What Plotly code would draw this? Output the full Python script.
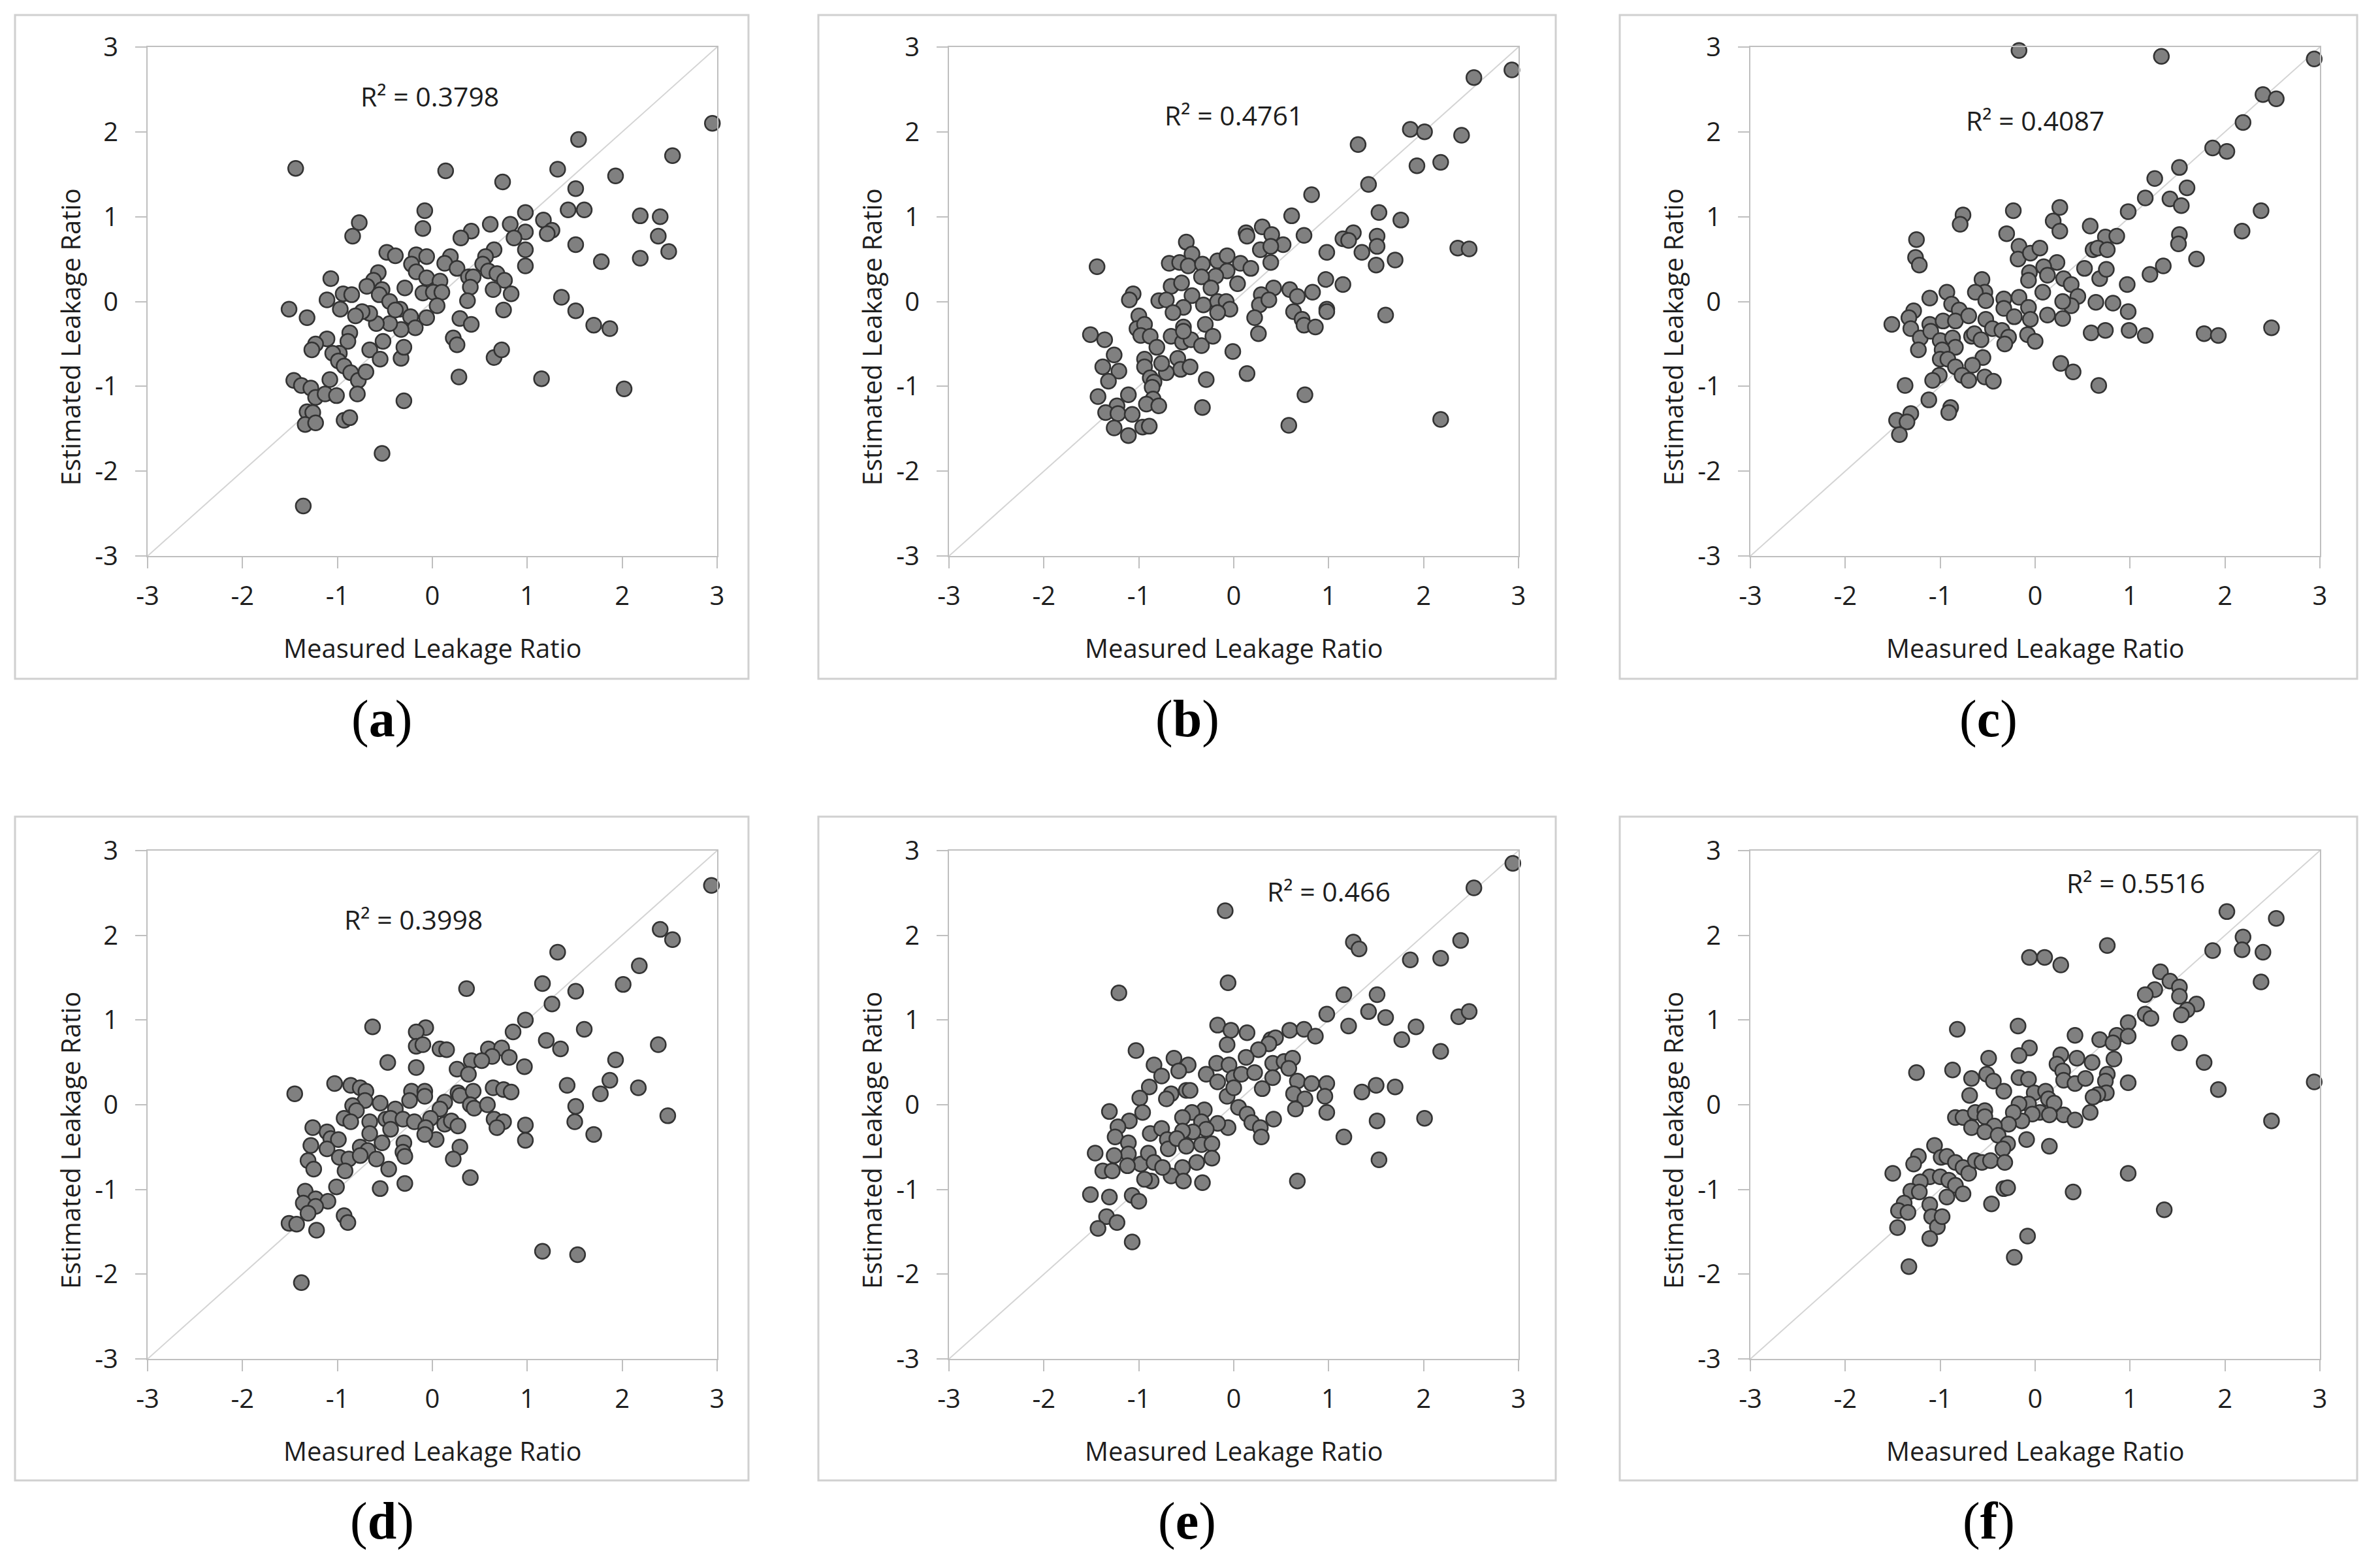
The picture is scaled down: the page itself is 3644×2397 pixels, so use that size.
import plotly.graph_objects as go

W, H = 3644, 2397

# shared axis settings (also the ends of the 1:1 reference line)
axis_range = [-3, 3]
tick_vals = [-3, -2, -1, 0, 1, 2, 3]
tick_text = [str(v) for v in tick_vals]

panel_letters = ["a", "b", "c", "d", "e", "f"]
r2_values = ["0.3798", "0.4761", "0.4087", "0.3998", "0.466", "0.5516"]

# (a)
measured_a = [2.95, 1.54, 2.53, -1.44, 0.14, 1.32, 1.93, 0.74, 1.51, -0.08, 1.43, 1.60, 0.98, 2.19, 2.40, -0.77, -0.10,
              -0.84, 1.17, 0.61, 0.82, 1.26, 1.21, 0.98, 0.41, 0.30, 0.86, 2.38, 1.51, 2.49, 0.98, 2.19, 1.78, 0.98,
              -0.48, -0.39, -0.17, -0.06, 0.19, 0.13, 0.26, 0.65, 0.56, 0.53, 0.59, 0.68, 0.76, 0.83, 0.64, 0.38,
              0.43, 0.40, 0.37, 0.75, 0.29, 0.41, 0.22, 0.26, 0.65, 0.73, 0.28, 1.15, 1.36, 1.51, 1.70, 1.87, 2.02,
              -0.22, -0.17, -0.06, 0.08, -0.10, 0.01, 0.10, 0.05, -0.06,
              -0.29, -0.57, -0.62, -0.69, -0.53, -0.56, -0.45, -0.34, -0.23, -0.18, -0.33, -0.45, -0.59, -0.66, -0.74, -0.81,
              -1.07, -0.94, -0.85, -1.11, -0.97, -1.51, -1.32, -0.87, -0.89, -1.11, -1.23, -1.27, -0.98, -1.05, -0.99,
              -0.93, -0.86, -0.78, -0.70, -0.79, -0.66, -0.52, -0.55, -0.33, -0.30,
              -1.46, -1.38, -1.28, -1.23, -1.08, -1.13, -1.01, -1.32, -1.26, -1.34, -1.23, -0.93, -0.87, -0.30, -0.53, -1.36,
              -0.39]
estimated_a = [2.10, 1.91, 1.72, 1.57, 1.54, 1.56, 1.48, 1.41, 1.33, 1.07, 1.08, 1.08, 1.05, 1.01, 1.00, 0.93, 0.86,
               0.77, 0.96, 0.91, 0.91, 0.84, 0.80, 0.82, 0.83, 0.75, 0.75, 0.77, 0.67, 0.59, 0.61, 0.51, 0.47, 0.42,
               0.58, 0.54, 0.55, 0.53, 0.53, 0.45, 0.39, 0.61, 0.53, 0.44, 0.36, 0.33, 0.25, 0.09, 0.14, 0.29,
               0.29, 0.17, 0.01, -0.10, -0.20, -0.27, -0.43, -0.51, -0.66, -0.57, -0.89, -0.91, 0.05, -0.11, -0.28, -0.32, -1.03,
               0.44, 0.35, 0.28, 0.24, 0.10, 0.11, 0.11, -0.05, -0.19,
               0.16, 0.34, 0.25, 0.18, 0.14, 0.08, 0.00, -0.09, -0.18, -0.31, -0.33, -0.26, -0.26, -0.14, -0.12, -0.17,
               0.27, 0.09, 0.08, 0.02, -0.09, -0.09, -0.19, -0.37, -0.47, -0.44, -0.50, -0.57, -0.61, -0.61, -0.70,
               -0.76, -0.84, -0.93, -0.83, -1.09, -0.57, -0.47, -0.68, -0.67, -0.54,
               -0.93, -0.99, -1.02, -1.13, -0.92, -1.09, -1.11, -1.30, -1.31, -1.45, -1.43, -1.40, -1.37, -1.17, -1.79, -2.41,
               -0.10]

# (b)
measured_b = [2.93, 2.53, 1.86, 2.01, 2.40, 1.31, 1.93, 2.18, 1.42, 0.82,
              0.61, 1.53, 1.76, 0.30, 0.13, 0.14, 0.40, 0.74, 1.26, 1.15,
              1.21, 1.51, 1.51, 0.52, 0.28, 0.39, 0.98, 1.35, 2.36, 2.48,
              1.50, 1.70, 0.39, 0.97, 1.15, -0.50, -0.44, -0.68, -0.57, -0.48,
              -0.33, -0.17, -0.07, -0.07, -0.19, 0.07, 0.18, -0.34, 0.04, -0.66,
              -0.55, -0.24, -0.44, -0.79, -0.71, -0.32, -0.17, -0.08, -0.04, -0.53,
              -0.64, -0.17, -1.06, -1.10, -1.44, 0.42, 0.59, 0.67, 0.83, 0.29,
              0.27, 0.37, 0.63, 0.72, 0.74, 0.86, 0.98, 0.98, 1.60, 0.22,
              0.26, -1.00, -1.02, -0.94, -0.98, -0.88, -1.51, -1.36, -1.26, -1.38,
              -1.21, -1.32, -0.81, -0.66, -0.53, -0.54, -0.45, -0.34, -0.30, -0.22,
              -0.59, -0.56, -0.46, -0.71, -0.76, -0.94, -0.94, -0.88, -0.84, -0.86,
              -0.85, -0.92, -0.79, -1.11, -1.43, -1.23, -1.35, -1.22, -1.07, -1.26,
              -1.11, -0.96, -0.89, -0.33, -0.29, -0.01, 0.14, 0.58, 0.75, 2.18, -0.53]
estimated_b = [2.73, 2.64, 2.03, 2.00, 1.96, 1.85, 1.60, 1.64, 1.38, 1.26,
               1.01, 1.05, 0.96, 0.88, 0.81, 0.77, 0.79, 0.78, 0.81, 0.74,
               0.72, 0.77, 0.65, 0.67, 0.61, 0.65, 0.58, 0.58, 0.63, 0.62,
               0.43, 0.49, 0.46, 0.26, 0.20, 0.70, 0.56, 0.45, 0.46, 0.42,
               0.44, 0.48, 0.54, 0.36, 0.30, 0.45, 0.39, 0.29, 0.21, 0.18,
               0.22, 0.16, 0.07, 0.01, 0.02, -0.04, 0.00, 0.00, -0.09, -0.07,
               -0.13, -0.13, 0.09, 0.02, 0.41, 0.16, 0.14, 0.06, 0.11, 0.08,
               -0.04, 0.02, -0.12, -0.21, -0.28, -0.30, -0.09, -0.12, -0.16, -0.19,
               -0.38, -0.17, -0.32, -0.27, -0.40, -0.41, -0.39, -0.45, -0.63, -0.77,
               -0.82, -0.94, -0.54, -0.41, -0.30, -0.48, -0.45, -0.52, -0.27, -0.41,
               -0.67, -0.80, -0.77, -0.84, -0.73, -0.68, -0.77, -0.90, -0.95, -1.01,
               -1.15, -1.21, -1.23, -1.10, -1.12, -1.23, -1.31, -1.32, -1.33, -1.49,
               -1.58, -1.48, -1.47, -1.25, -0.92, -0.59, -0.85, -1.46, -1.10, -1.39, -0.35]

# (c)
measured_c = [-0.17, 1.33, 2.94, 2.40, 2.54, 2.19, 1.87, 2.02, 1.52, 1.26,
              1.60, 1.16, 1.42, 1.54, 0.98, 2.38, -0.76, -0.79, -0.23, 0.26,
              0.19, 0.26, 0.58, -0.30, 1.52, 1.51, 2.18, 0.74, 0.86, 0.61,
              0.66, 0.76, -1.25, -1.26, -1.22, -0.17, -0.18, -0.05, 0.05, 1.70,
              0.23, 0.09, 0.13, -0.06, -0.07, 0.52, 0.68, 0.75, 1.35, 1.21,
              0.97, 0.30, 0.38, 0.45, 0.38, 0.29, 0.08, -0.56, -0.53, -0.63,
              -0.52, -0.93, -1.11, -0.88, -0.80, -0.33, -0.33, -0.17, -0.07, -0.05,
              -0.22, 0.13, 0.29, 0.64, 0.82, 0.98, 0.59, 0.74, 0.99, 1.16,
              1.78, 1.93, 2.49, -1.28, -1.33, -1.51, -1.31, -1.21, -1.23, -1.11,
              -1.10, -0.97, -0.84, -1.00, -0.87, -0.84, -0.98, -1.00, -0.92, -0.84,
              -0.70, -0.52, -0.67, -0.64, -0.57, -0.45, -0.35, -0.28, -0.32, -0.08,
              0.00, -0.55, -0.66, -0.77, -0.70, -0.53, -0.44, -1.01, -1.08, 0.27,
              0.40, 0.67, -1.37, -1.12, -0.89, -0.91, -1.31, -1.46, -1.35, -1.43]
estimated_c = [2.96, 2.89, 2.86, 2.44, 2.39, 2.11, 1.81, 1.77, 1.58, 1.45,
               1.34, 1.22, 1.21, 1.13, 1.06, 1.07, 1.02, 0.91, 1.07, 1.11,
               0.95, 0.83, 0.89, 0.80, 0.79, 0.68, 0.83, 0.76, 0.77, 0.61,
               0.63, 0.61, 0.73, 0.52, 0.43, 0.65, 0.50, 0.57, 0.63, 0.50,
               0.46, 0.41, 0.31, 0.34, 0.25, 0.39, 0.27, 0.38, 0.42, 0.32,
               0.20, 0.27, 0.20, 0.06, -0.05, 0.00, 0.11, 0.26, 0.11, 0.11,
               0.01, 0.11, 0.04, -0.03, -0.10, 0.03, -0.08, 0.05, -0.07, -0.21,
               -0.18, -0.16, -0.20, -0.01, -0.02, -0.12, -0.37, -0.34, -0.34, -0.40,
               -0.38, -0.40, -0.31, -0.11, -0.19, -0.27, -0.32, -0.43, -0.57, -0.27,
               -0.35, -0.23, -0.23, -0.46, -0.43, -0.54, -0.57, -0.68, -0.68, -0.77,
               -0.17, -0.21, -0.41, -0.38, -0.45, -0.32, -0.34, -0.42, -0.50, -0.39,
               -0.47, -0.66, -0.75, -0.87, -0.93, -0.89, -0.94, -0.87, -0.93, -0.73,
               -0.83, -0.99, -0.99, -1.16, -1.25, -1.31, -1.32, -1.40, -1.42, -1.57]

# (d)
measured_d = [2.94, 2.40, 2.53, 1.32, 2.18, 1.16, 2.01, 0.36, 1.51, 1.26,
              0.98, -0.63, -0.07, -0.17, 0.85, 1.60, -0.17, -0.10, 1.20, 0.08,
              0.15, 0.59, 0.73, 1.35, 2.38, 0.63, 0.81, 0.41, 0.52, 1.93,
              0.97, -0.47, -0.17, 0.26, 0.38, 1.87, 1.42, 2.17, 1.77, -1.45,
              -1.03, -0.86, -0.76, -0.70, -0.71, -0.55, -0.22, -0.08, -0.08, -0.24,
              0.27, 0.29, 0.43, 0.64, 0.75, 0.83, 0.13, 0.08, 0.40, 0.44,
              0.58, 1.51, -0.84, -0.80, -0.39, -0.93, -0.86, -0.66, -0.49, -0.44,
              -0.31, -0.19, -0.02, -0.07, 0.13, 0.20, 0.27, 0.65, 0.75, 0.68,
              0.98, 1.50, 2.48, 1.70, 0.98, 0.04, -0.08, -0.30, -0.44, -0.53,
              -0.66, -0.76, -0.68, -1.11, -1.07, -0.99, -1.26, -1.28, -1.11, -0.98,
              -0.88, -0.76, -0.59, -0.31, -0.29, 0.29, 0.22, -1.31, -1.25, -0.92,
              -0.46, -0.55, -0.29, 0.40, -1.01, -1.34, -1.23, -1.10, -1.36, -1.23,
              -1.31, -1.51, -1.43, -1.22, -0.93, -0.89, 1.16, 1.53, -1.38]
estimated_d = [2.59, 2.07, 1.95, 1.80, 1.64, 1.43, 1.42, 1.37, 1.34, 1.19,
               1.00, 0.92, 0.91, 0.86, 0.86, 0.89, 0.69, 0.71, 0.76, 0.66,
               0.65, 0.66, 0.67, 0.66, 0.71, 0.57, 0.56, 0.52, 0.52, 0.53,
               0.45, 0.50, 0.44, 0.42, 0.36, 0.29, 0.23, 0.20, 0.13, 0.13,
               0.25, 0.23, 0.20, 0.16, 0.05, 0.02, 0.16, 0.16, 0.10, 0.05,
               0.14, 0.11, 0.16, 0.20, 0.18, 0.15, 0.03, -0.05, 0.00, -0.04,
               0.00, -0.02, -0.01, -0.07, -0.05, -0.16, -0.20, -0.20, -0.17, -0.16,
               -0.17, -0.20, -0.16, -0.27, -0.23, -0.19, -0.25, -0.17, -0.20, -0.27,
               -0.24, -0.20, -0.13, -0.35, -0.42, -0.41, -0.35, -0.45, -0.29, -0.45,
               -0.34, -0.50, -0.54, -0.32, -0.40, -0.41, -0.27, -0.48, -0.52, -0.62,
               -0.64, -0.60, -0.64, -0.56, -0.61, -0.50, -0.64, -0.66, -0.76, -0.78,
               -0.76, -0.99, -0.93, -0.86, -0.97, -1.02, -1.11, -1.14, -1.16, -1.20,
               -1.28, -1.40, -1.41, -1.48, -1.31, -1.39, -1.73, -1.77, -2.10]

# (e)
measured_e = [2.94, 2.53, -0.09, 1.26, 1.32, 2.39, 1.86, 2.18, -0.06, -1.21,
              1.16, 1.51, 0.98, 1.42, 1.60, 2.37, 2.48, 1.21, 1.92, 1.77,
              2.18, -0.17, -0.03, 0.14, 0.59, 0.74, 0.86, -0.07, 0.39, 0.44,
              0.37, 0.26, 0.13, -1.03, -0.63, -0.48, -0.58, -0.84, -0.76, -0.89,
              -0.99, -0.96, -1.31, -0.18, -0.05, -0.29, -0.17, 0.00, 0.08, 0.22,
              0.41, 0.53, 0.62, 0.58, 0.41, 0.30, -0.07, 0.00, 0.67, 0.82,
              0.98, 0.63, 0.75, 0.96, 0.65, 0.98, 1.35, 1.50, 1.70, 2.01,
              1.51, 1.16, 1.53, 0.67, 0.42, 0.05, 0.14, 0.19, 0.28, 0.29,
              -0.06, -0.17, -0.31, -0.44, -0.54, -0.34, -0.29, -0.43, -0.54, -0.66,
              -0.71, -0.50, -0.46, -1.10, -1.22, -1.25, -1.11, -0.88, -0.76, -0.70,
              -0.69, -0.60, -0.50, -0.34, -0.23, -0.23, -0.39, -0.54, -0.66, -0.53,
              -0.33, -0.87, -0.94, -0.98, -0.90, -0.84, -0.75, -1.11, -1.26, -1.46,
              -1.38, -1.28, -1.12, -1.51, -1.31, -1.07, -1.00, -1.34, -1.23, -1.43, -1.07]
estimated_e = [2.85, 2.56, 2.29, 1.92, 1.84, 1.94, 1.71, 1.73, 1.44, 1.32,
               1.30, 1.30, 1.07, 1.10, 1.03, 1.04, 1.10, 0.93, 0.92, 0.77,
               0.63, 0.94, 0.88, 0.85, 0.88, 0.89, 0.81, 0.71, 0.77, 0.79,
               0.72, 0.65, 0.56, 0.64, 0.55, 0.47, 0.40, 0.47, 0.34, 0.21,
               0.08, -0.09, -0.08, 0.49, 0.47, 0.36, 0.27, 0.32, 0.36, 0.38,
               0.49, 0.51, 0.55, 0.43, 0.32, 0.19, 0.10, 0.20, 0.28, 0.25,
               0.25, 0.13, 0.07, 0.10, -0.05, -0.09, 0.15, 0.23, 0.21, -0.16,
               -0.19, -0.38, -0.65, -0.90, -0.17, -0.03, -0.11, -0.21, -0.27, -0.38,
               -0.27, -0.22, -0.06, -0.09, -0.15, -0.20, -0.29, -0.32, -0.31, 0.13,
               0.07, 0.17, 0.17, -0.19, -0.26, -0.38, -0.45, -0.34, -0.28, -0.41,
               -0.52, -0.40, -0.49, -0.47, -0.46, -0.63, -0.68, -0.74, -0.84, -0.90,
               -0.92, -0.90, -0.88, -0.70, -0.57, -0.68, -0.74, -0.58, -0.60, -0.57,
               -0.78, -0.78, -0.72, -1.06, -1.09, -1.07, -1.14, -1.32, -1.39, -1.46, -1.62]

# (f)
measured_f = [2.02, 2.54, 2.19, 2.18, 1.87, 2.40, 0.76, -0.06, 0.10, 0.27,
              1.32, 1.42, 2.38, 1.52, 1.26, 1.16, 1.52, 1.70, 1.60, 1.54,
              1.16, 1.22, 0.98, 1.52, 1.78, 1.93, 2.94, 2.49, 0.98, -0.82,
              -0.18, 0.42, 0.68, 0.86, 0.98, 0.82, -0.06, -0.17, -0.49, 0.27,
              0.44, 0.83, 0.60, 0.23, 0.29, -1.25, -0.87, -0.67, -0.51, -0.44,
              -0.33, -0.17, -0.07, 0.30, 0.42, 0.53, 0.76, 0.74, 0.75, 0.66,
              0.61, -0.69, -0.01, 0.11, 0.14, 0.20, -0.07, -0.17, 0.05, -0.03,
              0.30, 0.42, 0.58, 0.15, -0.14, -0.23, -0.28, -0.84, -0.76, -0.63,
              -0.53, -0.53, -0.67, -0.43, -0.53, -0.39, -0.29, -0.34, -0.09, 0.15,
              -1.06, -1.23, -1.28, -0.99, -0.93, -0.84, -0.76, -0.70, -0.63, -0.56,
              -0.47, -0.32, -1.50, -1.11, -1.00, -0.91, -0.84, -0.76, -1.21, -1.31,
              -1.22, -1.38, -1.44, -1.34, -1.11, -0.93, -1.09, -1.03, -0.98, -1.45,
              -1.11, -1.33, -0.46, -0.33, -0.29, 0.40, -0.08, -0.22, 0.98, 1.36]
estimated_f = [2.28, 2.20, 1.98, 1.83, 1.82, 1.80, 1.88, 1.74, 1.74, 1.65,
               1.57, 1.46, 1.45, 1.39, 1.36, 1.30, 1.28, 1.19, 1.12, 1.06,
               1.07, 1.02, 0.97, 0.73, 0.50, 0.18, 0.27, -0.19, 0.26, 0.89,
               0.93, 0.82, 0.77, 0.82, 0.81, 0.73, 0.67, 0.58, 0.55, 0.59,
               0.55, 0.54, 0.50, 0.48, 0.40, 0.38, 0.41, 0.31, 0.36, 0.28,
               0.16, 0.32, 0.30, 0.29, 0.25, 0.31, 0.36, 0.28, 0.14, 0.12,
               0.09, 0.11, 0.14, 0.16, 0.07, 0.02, 0.01, 0.01, -0.09, -0.11,
               -0.12, -0.18, -0.09, -0.12, -0.19, -0.09, -0.23, -0.15, -0.15, -0.09,
               -0.07, -0.14, -0.27, -0.25, -0.32, -0.36, -0.46, -0.52, -0.41, -0.49,
               -0.48, -0.61, -0.70, -0.62, -0.61, -0.68, -0.74, -0.81, -0.66, -0.68,
               -0.66, -0.68, -0.81, -0.85, -0.85, -0.89, -0.95, -1.05, -0.91, -1.02,
               -1.03, -1.16, -1.25, -1.27, -1.18, -1.09, -1.32, -1.44, -1.32, -1.45,
               -1.58, -1.91, -1.17, -0.99, -0.98, -1.03, -1.55, -1.80, -0.81, -1.24]

panels = [(measured_a, estimated_a), (measured_b, estimated_b), (measured_c, estimated_c),
          (measured_d, estimated_d), (measured_e, estimated_e), (measured_f, estimated_f)]

# page layout in pixels (the page body adds an 8 px offset)
OFF = 8
col_plot = [(226, 1098), (1453, 2325), (2680, 3552)]
row_plot = [(72, 851), (1302, 2080)]
col_box = [(23, 1146), (1253, 2382), (2480, 3609)]
row_box = [(23, 1039), (1250, 2266)]
r2_pos = [(-0.03, 2.42), (0.0, 2.2), (0.0, 2.14), (-0.2, 2.19), (1.0, 2.52), (1.06, 2.62)]


def fx(px):
    return (px - OFF) / W


def fy(px):
    return 1 - (px - OFF) / H


GRAY_AX = "#bfbfbf"
TXT = "#1e1e1e"
FONT = "Open Sans"

axis_base = dict(range=axis_range, tickvals=tick_vals, ticktext=tick_text,
                 showgrid=False, zeroline=False, showline=True, mirror=True,
                 linecolor=GRAY_AX, linewidth=2, ticks="outside", ticklen=17,
                 tickwidth=2, tickcolor=GRAY_AX, automargin=False,
                 tickfont=dict(family=FONT, size=40, color=TXT), fixedrange=True)

fig = go.Figure()
annotations = []
shapes = []

for i, (mx, ey) in enumerate(panels):
    r, c = divmod(i, 3)
    sfx = "" if i == 0 else str(i + 1)
    xa, ya = "x" + sfx, "y" + sfx

    # 1:1 line
    fig.add_trace(go.Scatter(x=axis_range, y=axis_range, mode="lines",
                             line=dict(color="#d4d4d4", width=2),
                             xaxis=xa, yaxis=ya, hoverinfo="skip"))
    fig.add_trace(go.Scatter(x=mx, y=ey, mode="markers", cliponaxis=False,
                             marker=dict(size=23, color="#808080",
                                         line=dict(color="#333333", width=2.5)),
                             xaxis=xa, yaxis=ya))

    px0, px1 = col_plot[c]
    py0, py1 = row_plot[r]
    fig.update_layout(**{
        "xaxis" + sfx: dict(domain=[fx(px0), fx(px1)], anchor=ya,
                            ticklabelstandoff=8, **axis_base),
        "yaxis" + sfx: dict(domain=[fy(py1), fy(py0)], anchor=xa,
                            ticklabelstandoff=18, **axis_base),
    })

    bx0, bx1 = col_box[c]
    by0, by1 = row_box[r]
    shapes.append(dict(type="rect", xref="paper", yref="paper", layer="below",
                       x0=fx(bx0), x1=fx(bx1), y0=fy(by1), y1=fy(by0),
                       line=dict(color="#d0d0d0", width=3)))

    rx, ry = r2_pos[i]
    annotations.append(dict(x=rx, y=ry, xref=xa, yref=ya, showarrow=False,
                            xanchor="center", yanchor="middle",
                            text="R² = " + r2_values[i],
                            font=dict(family=FONT, size=41, color=TXT)))
    # axis titles
    annotations.append(dict(x=fx((px0 + px1) / 2), y=fy(py1 + 140),
                            xref="paper", yref="paper", showarrow=False,
                            xanchor="center", yanchor="middle",
                            text="Measured Leakage Ratio",
                            font=dict(family=FONT, size=40, color=TXT)))
    annotations.append(dict(x=fx(px0 - 119), y=fy((py0 + py1) / 2 + 55),
                            xref="paper", yref="paper", showarrow=False, textangle=-90,
                            xanchor="center", yanchor="middle",
                            text="Estimated Leakage Ratio",
                            font=dict(family=FONT, size=40, color=TXT)))
    # panel letter
    annotations.append(dict(x=fx((bx0 + bx1) / 2), y=fy(by1 + 62),
                            xref="paper", yref="paper", showarrow=False,
                            xanchor="center", yanchor="middle",
                            text="(<b>" + panel_letters[i] + "</b>)",
                            font=dict(family="Liberation Serif", size=80, color="black")))

fig.update_layout(width=W, height=H,
                  margin=dict(l=0, r=0, t=0, b=0, pad=0, autoexpand=False),
                  paper_bgcolor="white", plot_bgcolor="white", showlegend=False,
                  annotations=annotations, shapes=shapes)

fig.write_html("out.html")
